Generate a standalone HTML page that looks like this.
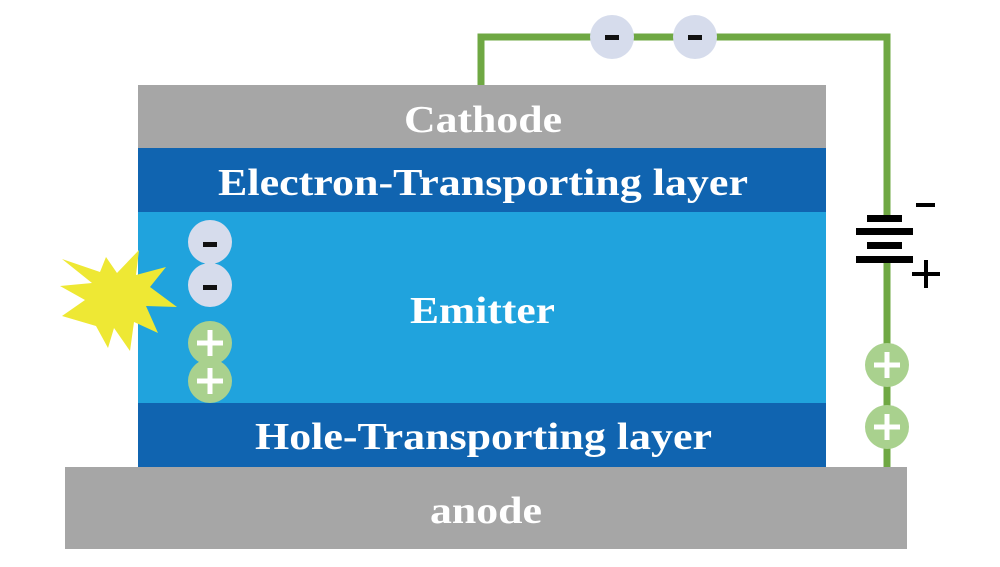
<!DOCTYPE html>
<html><head><style>body{margin:0;background:#fff}</style></head><body>
<svg width="1000" height="562" viewBox="0 0 1000 562" xmlns="http://www.w3.org/2000/svg" font-family="Liberation Serif, serif" font-weight="bold">
<polyline points="481,86 481,37 887,37 887,215" fill="none" stroke="#6fa843" stroke-width="7"/>
<line x1="887" y1="262" x2="887" y2="468" stroke="#6fa843" stroke-width="7"/>
<rect x="138" y="85" width="688" height="64" fill="#a6a6a6"/>
<rect x="138" y="148" width="688" height="64" fill="#1064b0"/>
<rect x="138" y="212" width="688" height="191" fill="#20a3dd"/>
<rect x="138" y="403" width="688" height="64" fill="#1064b0"/>
<rect x="65" y="467" width="842" height="82" fill="#a6a6a6"/>
<g fill="#fff" font-size="38">
<text x="404" y="132" textLength="158" lengthAdjust="spacingAndGlyphs">Cathode</text>
<text x="218" y="195" textLength="530" lengthAdjust="spacingAndGlyphs">Electron-Transporting layer</text>
<text x="410" y="323" textLength="145" lengthAdjust="spacingAndGlyphs">Emitter</text>
<text x="255" y="449" textLength="457" lengthAdjust="spacingAndGlyphs">Hole-Transporting layer</text>
<text x="430" y="523" textLength="112" lengthAdjust="spacingAndGlyphs">anode</text>
</g>
<polygon fill="#eee834" points="62,259 100,272 106,257 117,273 139,250 136,275 166,267 150,287 177,307 146,306 158,333 134,322 130,351 114,328 108,348 96,326 62,316 85,300 60,286 92,283" />
<g fill="#d6dcec"><circle cx="612" cy="37" r="22"/><circle cx="695" cy="37" r="22"/><circle cx="210" cy="242" r="22"/><circle cx="210" cy="285" r="22"/></g>
<g fill="#111"><rect x="605" y="35" width="14" height="5"/><rect x="688" y="35" width="14" height="5"/><rect x="203" y="242" width="14" height="5"/><rect x="203" y="285" width="14" height="5"/></g>
<g fill="#a9d18e"><circle cx="210" cy="343" r="22"/><circle cx="210" cy="381" r="22"/><circle cx="887" cy="365" r="22"/><circle cx="887" cy="427" r="22"/></g>
<g stroke="#fff" stroke-width="5"><path d="M197 343h26M210 330v26M197 381h26M210 368v26M874 365h26M887 352v26M874 427h26M887 414v26"/></g>
<g fill="#000"><rect x="867" y="215" width="35" height="7"/><rect x="856" y="228" width="57" height="7"/><rect x="867" y="242" width="35" height="7"/><rect x="856" y="256" width="57" height="7"/>
<rect x="916" y="203" width="19" height="4"/><rect x="912" y="272" width="28" height="4"/><rect x="924" y="260" width="4" height="28"/></g>
</svg>
</body></html>
